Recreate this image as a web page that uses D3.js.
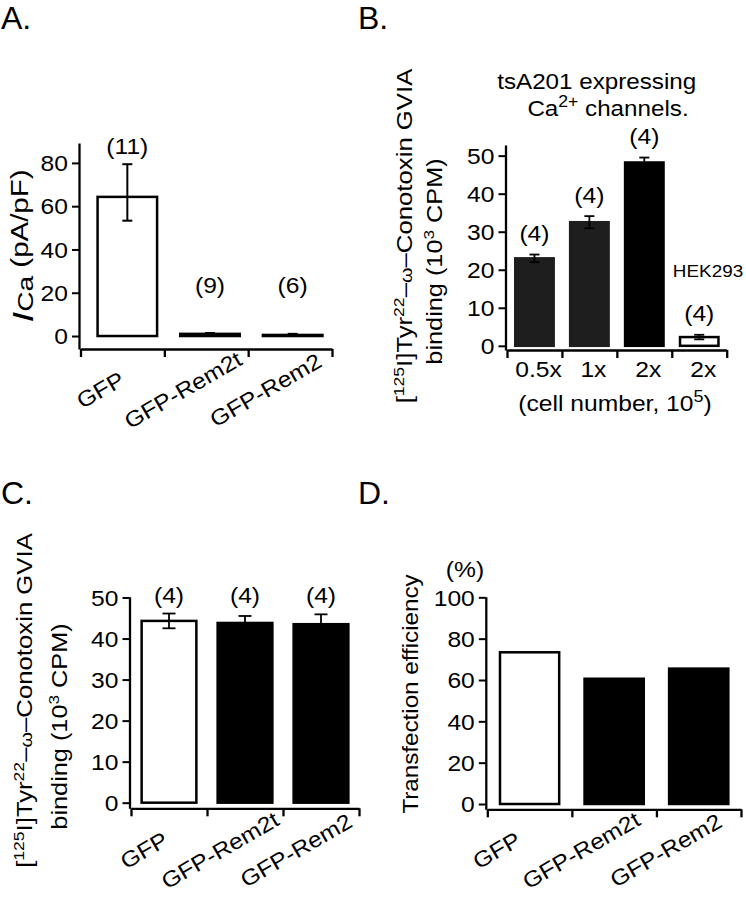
<!DOCTYPE html>
<html>
<head>
<meta charset="utf-8">
<script src="https://cdn.jsdelivr.net/npm/d3@7"></script>
<style>
  html, body { margin: 0; padding: 0; background: #fff; }
  svg { display: block; }
  text { white-space: pre; }
</style>
</head>
<body>
<script>
// ---------------- DATA ----------------
const catsA = ["GFP", "GFP-Rem2t", "GFP-Rem2"];
const valuesA = [64.3, 1.0, 0.5];
const errLowA = [53.3, 0.6, 0.0];
const errHighA = [79.4, 1.4, 1.0];
const nA = ["(11)", "(9)", "(6)"];
const ticksA = [0, 20, 40, 60, 80];

const catsB = ["0.5x", "1x", "2x", "2x"];
const valuesB = [23.0, 32.5, 48.2, 2.3];
const semB = [1.0, 1.6, 1.3, 0.6];
const nB = ["(4)", "(4)", "(4)", "(4)"];
const ticksB = [0, 10, 20, 30, 40, 50];

const catsC = ["GFP", "GFP-Rem2t", "GFP-Rem2"];
const valuesC = [44.3, 43.8, 43.5];
const semC = [1.8, 1.7, 2.4];
const nC = ["(4)", "(4)", "(4)"];
const ticksC = [0, 10, 20, 30, 40, 50];

const catsD = ["GFP", "GFP-Rem2t", "GFP-Rem2"];
const valuesD = [73.4, 60.6, 65.5];
const ticksD = [0, 20, 40, 60, 80, 100];

// ---------------- SETUP ----------------
const FONT = "'Liberation Sans', Arial, Helvetica, sans-serif";
const SX = 1.12;
const svg = d3.select("body").append("svg")
  .attr("width", 746).attr("height", 900)
  .attr("font-family", FONT);

function rich(g, x, y, parts, opt) {
  const o = Object.assign({size: 22, anchor: "middle", rot: 0, sx: SX}, opt || {});
  const t = g.append("text")
    .attr("transform", `translate(${x},${y}) rotate(${o.rot}) scale(${o.sx},1)`)
    .attr("text-anchor", o.anchor)
    .attr("font-size", o.size)
    .attr("fill", "#000");
  if (typeof parts === "string") {
    t.text(parts);
    if (o.dy) t.attr("dy", o.dy);
    return t;
  }
  let prev = 0;
  parts.forEach(p => {
    const s = typeof p === "string" ? {t: p} : p;
    const shift = s.shift || 0;
    const ts = t.append("tspan").text(s.t).attr("dy", shift - prev);
    if (s.size) ts.attr("font-size", s.size);
    if (s.italic) ts.attr("font-style", "italic");
    prev = shift;
  });
  return t;
}

function panel(cfg) {
  const g = svg.append("g");
  const n = cfg.cats.length;
  const y = d3.scaleLinear().domain(cfg.yDomain).range([cfg.axisY, cfg.top]);
  const xt = d3.scaleLinear().domain([0, n]).range([cfg.x0, cfg.x1]);
  const xb = d3.scaleBand().domain(d3.range(n)).range(cfg.bandRange || [cfg.x0, cfg.x1])
    .paddingInner(cfg.padIn).paddingOuter(cfg.padIn / 2);
  const bw = xb.bandwidth();
  const cx = i => xb(i) + bw / 2;

  // y axis
  const ya = g.append("g")
    .attr("transform", `translate(${cfg.x0 - 1.5},0)`)
    .call(d3.axisLeft(y).tickValues(cfg.ticks).tickSize(7).tickSizeOuter(0).tickFormat(d3.format("d")));
  ya.attr("font-size", 22).attr("font-family", FONT);
  ya.select(".domain").attr("stroke", "#000").attr("stroke-width", 2.3);
  ya.selectAll(".tick line").attr("stroke", "#000").attr("stroke-width", 2);
  ya.selectAll(".tick text")
    .attr("x", 0).attr("dy", "0.35em").attr("fill", "#000")
    .attr("transform", `translate(-11,0) scale(${SX},1)`);

  // x axis (category boundaries)
  const xa = g.append("g")
    .attr("transform", `translate(0,${cfg.axisY})`)
    .call(d3.axisBottom(xt).tickValues(d3.range(n + 1)).tickSize(8).tickSizeOuter(0).tickFormat(""));
  xa.select(".domain").attr("stroke", "#000").attr("stroke-width", 2.3);
  xa.selectAll(".tick line").attr("stroke", "#000").attr("stroke-width", 2.3);
  xa.selectAll(".tick text").remove();

  // bars
  g.append("g").selectAll("rect").data(cfg.values).join("rect")
    .attr("x", (d, i) => xb(i))
    .attr("width", bw)
    .attr("y", d => y(d))
    .attr("height", d => y(0) - y(d))
    .attr("fill", (d, i) => cfg.fills[i])
    .attr("stroke", (d, i) => cfg.fills[i] === "#fff" ? "#000" : cfg.fills[i])
    .attr("stroke-width", 2.5);

  // error bars
  if (cfg.errLow) {
    const eg = g.append("g").attr("stroke", "#000").attr("stroke-width", cfg.errW || 1.8);
    cfg.values.forEach((v, i) => {
      const lo = cfg.errLow[i], hi = cfg.errHigh[i];
      eg.append("line").attr("x1", cx(i)).attr("x2", cx(i)).attr("y1", y(lo)).attr("y2", y(hi));
      [lo, hi].forEach(e => {
        eg.append("line").attr("x1", cx(i) - cfg.cap / 2).attr("x2", cx(i) + cfg.cap / 2)
          .attr("y1", y(e)).attr("y2", y(e));
      });
    });
  }

  // n labels
  if (cfg.nLabels) {
    cfg.nLabels.forEach((s, i) => {
      rich(g, cx(i), cfg.nY(i, y) + 7.5, s, {size: 22});
    });
  }

  // category labels
  cfg.cats.forEach((c, i) => {
    if (cfg.rotCats) {
      rich(g, cx(i) + cfg.catDx, cfg.axisY + cfg.catDy, c, {size: 22, rot: -30, dy: "0.35em"});
    } else {
      rich(g, cx(i) + 4, cfg.axisY + 26.7, c, {size: 22});
    }
  });
  return {g, y, xb, cx};
}

// ---------------- PANEL A ----------------
const pA = panel({
  cats: catsA, values: valuesA, errLow: errLowA, errHigh: errHighA,
  nLabels: nA, ticks: ticksA,
  yDomain: [-6, 89.2], axisY: 349, top: 143,
  x0: 80.5, x1: 332, bandRange: [86, 334], padIn: 0.28,
  fills: ["#fff", "#000", "#000"], cap: 10, errW: 2,
  nY: (i, y) => Math.min(y(errHighA[i]) - 18, y(23.5)),
  rotCats: true, catDx: -27, catDy: 41
});
rich(svg, 33, 246, [
  {t: "I", size: 30, italic: true},
  {t: "Ca", size: 22},
  {t: " (pA/pF)", size: 23, shift: -4.6}
], {rot: -90, sx: 1.28});

// ---------------- PANEL B ----------------
const pB = panel({
  cats: catsB, values: valuesB,
  errLow: valuesB.map((v, i) => v - semB[i]), errHigh: valuesB.map((v, i) => v + semB[i]),
  nLabels: nB, ticks: ticksB,
  yDomain: [-1.1, 52.8], axisY: 350, top: 145,
  x0: 507, x1: 726.7, padIn: 0.3,
  fills: ["#1e1e1e", "#1e1e1e", "#000", "#fff"], cap: 10, errW: 1.8,
  nY: (i, y) => y(valuesB[i] + semB[i]) - 21,
  rotCats: false
});
rich(svg, 412, 236, [
  "[", {t: "125", size: 15, shift: -8}, {t: "I]Tyr"}, {t: "22", size: 15, shift: -8},
  {t: "–"}, {t: "ω", size: 17}, {t: "–Conotoxin GVIA"}
], {rot: -90, sx: 1.17});
rich(svg, 441.5, 261.5, [
  "binding (10", {t: "3", size: 15, shift: -8}, {t: " CPM)"}
], {rot: -90, sx: 1.15});
rich(svg, 596.7, 89.3, "tsA201 expressing", {size: 22, sx: 1.1});
rich(svg, 608, 116, ["Ca", {t: "2+", size: 16, shift: -9}, {t: " channels."}], {size: 22, sx: 1.1});
rich(svg, 708, 276.7, "HEK293", {size: 16, sx: 1.18});
rich(svg, 615, 410.5, ["(cell number, 10", {t: "5", size: 16, shift: -9}, {t: ")"}], {size: 22, sx: 1.12});

// ---------------- PANEL C ----------------
const pC = panel({
  cats: catsC, values: valuesC,
  errLow: valuesC.map((v, i) => v - semC[i]), errHigh: valuesC.map((v, i) => v + semC[i]),
  nLabels: nC, ticks: ticksC,
  yDomain: [-1.37, 50.2], axisY: 808.3, top: 596.7,
  x0: 131, x1: 359, padIn: 0.28,
  fills: ["#fff", "#000", "#000"], cap: 13, errW: 1.8,
  nY: (i, y) => y(d3.max(valuesC.map((v, j) => v + semC[j]))) - 18,
  rotCats: true, catDx: -25, catDy: 42
});
rich(svg, 32, 700.5, [
  "[", {t: "125", size: 15, shift: -8}, {t: "I]Tyr"}, {t: "22", size: 15, shift: -8},
  {t: "–"}, {t: "ω", size: 17}, {t: "–Conotoxin GVIA"}
], {rot: -90, sx: 1.17});
rich(svg, 67, 726.5, [
  "binding (10", {t: "3", size: 15, shift: -8}, {t: " CPM)"}
], {rot: -90, sx: 1.15});

// ---------------- PANEL D ----------------
const pD = panel({
  cats: catsD, values: valuesD, ticks: ticksD,
  yDomain: [-2.56, 100.3], axisY: 809.3, top: 596.7,
  x0: 487.3, x1: 741, padIn: 0.3,
  fills: ["#fff", "#000", "#000"],
  rotCats: true, catDx: -33, catDy: 41
});
rich(svg, 417.5, 694, "Transfection efficiency", {rot: -90, sx: 1.1});
rich(svg, 465, 577, "(%)", {size: 22, sx: 1.12});

// ---------------- PANEL LETTERS ----------------
[["A.", 1, 29], ["B.", 358, 29], ["C.", 1, 504], ["D.", 358, 504]].forEach(([s, x, yy]) => {
  rich(svg, x, yy, s, {size: 32, anchor: "start", sx: 1});
});
</script>
</body>
</html>
